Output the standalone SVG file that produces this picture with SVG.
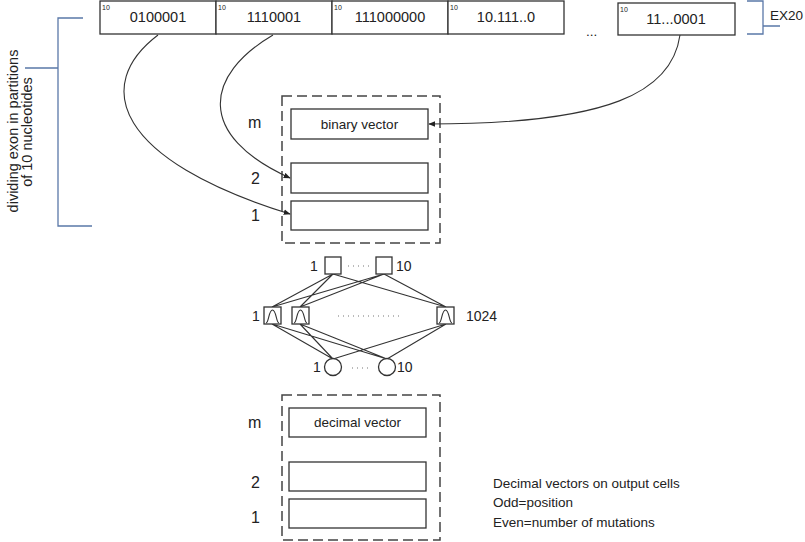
<svg xmlns="http://www.w3.org/2000/svg" width="805" height="542" viewBox="0 0 805 542">
<defs>
<style>
text{font-family:"Liberation Sans",Arial,sans-serif;fill:#222}
.cell{fill:#fff;stroke:#333;stroke-width:1.3}
.dash{fill:none;stroke:#444;stroke-width:1.5;stroke-dasharray:10 5}
.br{fill:none;stroke:#5a78a8;stroke-width:1.3}
.ln{fill:none;stroke:#333;stroke-width:1.1}
.sup{font-size:7px}
.t14{font-size:14.5px;text-anchor:middle}
.t13{font-size:13.5px}
.lab{font-size:16px}
.nl{font-size:14px}
.dots{fill:none;stroke:#777;stroke-width:1.2;stroke-dasharray:1 4}
</style>
<marker id="ah" viewBox="0 0 10 10" refX="9" refY="5" markerWidth="7" markerHeight="7" orient="auto" markerUnits="userSpaceOnUse">
<path d="M0,1 L10,5 L0,9 z" fill="#222"/>
</marker>
<g id="bell"><rect class="cell" x="0" y="0" width="17" height="17"/><path class="ln" d="M2,16 C5,16 4.5,3 8.5,3 C12.5,3 12,16 15,16" stroke-width="1.3"/></g>
</defs>

<g id="exon-row">
<rect class="cell" x="100" y="1" width="116" height="33"/>
<rect class="cell" x="216" y="1" width="116" height="33"/>
<rect class="cell" x="332" y="1" width="116" height="33"/>
<rect class="cell" x="448" y="1" width="116" height="33"/>
<rect class="cell" x="618" y="3" width="117" height="32"/>
<text class="sup" x="102" y="10">10</text>
<text class="sup" x="218" y="10">10</text>
<text class="sup" x="334" y="10">10</text>
<text class="sup" x="450" y="10">10</text>
<text class="sup" x="620" y="12">10</text>
<text class="t14" x="158" y="22">0100001</text>
<text class="t14" x="274" y="22">1110001</text>
<text class="t14" x="390" y="22">111000000</text>
<text class="t14" x="506" y="22">10.111..0</text>
<text class="t14" x="676" y="24">11...0001</text>
<text class="t13" x="586" y="36">...</text>
</g>

<g id="ex20-bracket">
<path class="br" d="M747,1 H763 V34 H747 M763,26 H780"/>
<text class="t13" x="770" y="20">EX20</text>
</g>

<g id="partition-bracket">
<path class="br" d="M83,18 H58 V226 H92 M25,68 H58"/>
<text transform="translate(17.5,131) rotate(-90)" text-anchor="middle" font-size="14.5">dividing exon in partitions</text>
<text transform="translate(31.5,132) rotate(-90)" text-anchor="middle" font-size="14.5">of 10 nucleotides</text>
</g>

<g id="binary-input">
<rect class="dash" x="282" y="96" width="158" height="147"/>
<rect class="cell" x="291" y="109" width="137" height="30"/>
<rect class="cell" x="291" y="163" width="137" height="30"/>
<rect class="cell" x="291" y="201" width="137" height="29"/>
<text class="t13" x="359.5" y="129" text-anchor="middle">binary vector</text>
<text class="lab" x="248" y="128">m</text>
<text class="lab" x="251" y="184">2</text>
<text class="lab" x="251" y="221">1</text>
</g>

<g id="connectors">
<path class="ln" d="M158,35 C92,85 115,160 290,214" marker-end="url(#ah)"/>
<path class="ln" d="M273,35 C205,75 195,135 290,178" marker-end="url(#ah)"/>
<path class="ln" d="M680,35 C672,92 610,124 429,124" marker-end="url(#ah)"/>
<path class="ln" d="M333,274 L272,307 M333,274 L300,307 M333,274 L446,307 M384,274 L272,307 M384,274 L300,307 M384,274 L446,307"/>
<path class="ln" d="M272,324 L333,359 M272,324 L387,359 M300,324 L333,359 M300,324 L387,359 M446,324 L333,359 M446,324 L387,359"/>
</g>

<g id="input-layer">
<rect class="cell" x="325" y="257" width="16" height="17"/>
<rect class="cell" x="376" y="257" width="16" height="17"/>
<text class="nl" x="310" y="271">1</text>
<text class="nl" x="396" y="271">10</text>
<path class="dots" d="M348,266 H372"/>
</g>

<g id="hidden-layer">
<use href="#bell" x="264" y="307"/>
<use href="#bell" x="292" y="307"/>
<use href="#bell" x="437" y="307"/>
<text class="nl" x="252" y="321">1</text>
<text class="nl" x="466" y="321">1024</text>
<path class="dots" d="M338,316 H400"/>
</g>

<g id="output-layer">
<circle cx="333" cy="367" r="8.5" fill="#fff" stroke="#333" stroke-width="1.3"/>
<circle cx="387" cy="367" r="8.5" fill="#fff" stroke="#333" stroke-width="1.3"/>
<text class="nl" x="313" y="372">1</text>
<text class="nl" x="397" y="372">10</text>
<path class="dots" d="M352,368 H372"/>
</g>

<g id="decimal-output">
<rect class="dash" x="282" y="395" width="158" height="145"/>
<rect class="cell" x="289" y="408" width="137" height="29"/>
<rect class="cell" x="289" y="462" width="137" height="29"/>
<rect class="cell" x="289" y="499" width="137" height="29"/>
<text class="t13" x="357.5" y="427" text-anchor="middle">decimal vector</text>
<text class="lab" x="248" y="428">m</text>
<text class="lab" x="251" y="488">2</text>
<text class="lab" x="251" y="523">1</text>
</g>

<g id="note">
<text class="t13" x="493" y="488">Decimal vectors on output cells</text>
<text class="t13" x="493" y="507">Odd=position</text>
<text class="t13" x="493" y="527">Even=number of mutations</text>
</g>
</svg>
